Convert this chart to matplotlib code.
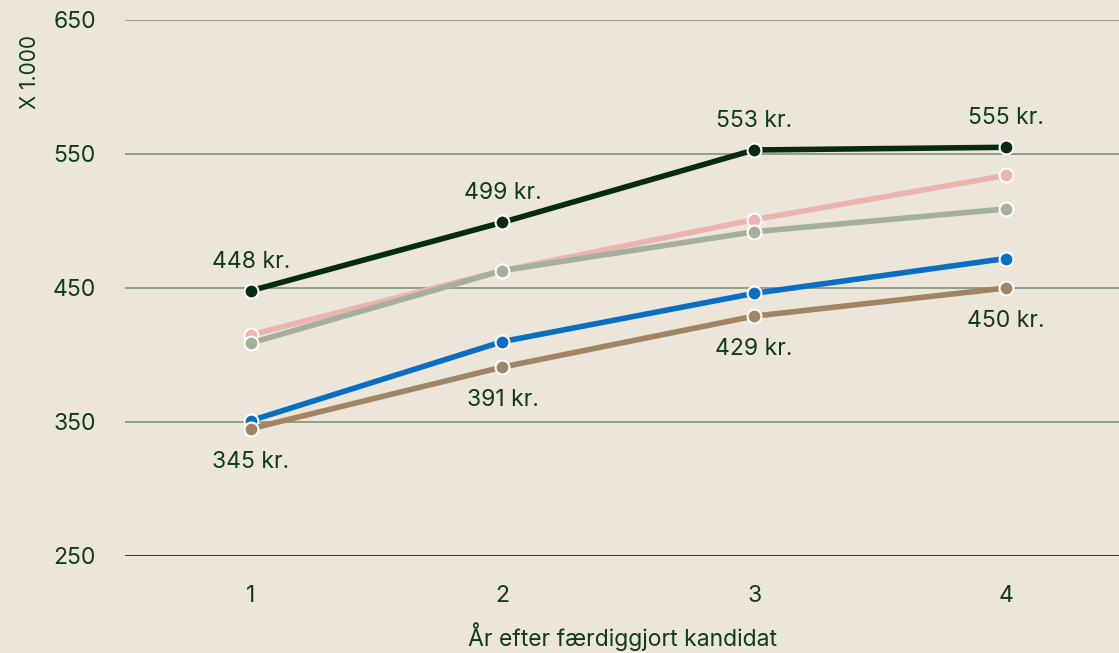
import matplotlib.pyplot as plt

plt.rcParams['font.family'] = ['Inter', 'DejaVu Sans']

years = [1, 2, 3, 4]
y_ticks = [250, 350, 450, 550, 650]

dark = [448, 499, 553, 555]
pink = [415, 463, 501, 534]
grey = [409, 463, 492, 509]
blue = [351, 410, 446, 472]
brown = [345, 391, 429, 450]

bg = '#ece5d9'
txt = '#0e3a1e'

fig = plt.figure(figsize=(11.19, 6.53), dpi=100, facecolor=bg)
ax = fig.add_axes([125 / 1119, 97 / 653, 1 - 125 / 1119, 536 / 653])
ax.set_facecolor(bg)

# grid lines
for v in y_ticks[1:]:
    ax.axhline(v, color='#8a9a82', lw=1.3, zorder=1)
ax.axhline(250, color='#2c4c33', lw=2.2, zorder=1)

series = [
    (pink, '#ebb3b1'),
    (grey, '#a4af9c'),
    (blue, '#0a6fc2'),
    (brown, '#a08463'),
    (dark, '#062b12'),
]
for vals, col in series:
    ax.plot(years, vals, color=col, lw=4, marker='o', ms=10,
            markerfacecolor=col, markeredgecolor='white', markeredgewidth=1.5,
            solid_capstyle='round', zorder=3)

for x, v in zip(years, dark):
    ax.annotate(f'{v} kr.', (x, v), xytext=(0, 21), textcoords='offset points',
                ha='center', va='center', fontsize=16.5, color=txt)
for x, v in zip(years, brown):
    ax.annotate(f'{v} kr.', (x, v), xytext=(0, -24), textcoords='offset points',
                ha='center', va='center', fontsize=16.5, color=txt)

ax.set_xlim(0.5, 4.45)
ax.set_ylim(250, 650)
ax.set_xticks(years)
ax.set_yticks(y_ticks)
ax.tick_params(length=0, labelsize=16.5, labelcolor=txt)
ax.tick_params(axis='y', pad=21)
ax.tick_params(axis='x', pad=21)
for s in ax.spines.values():
    s.set_visible(False)

ax.set_xlabel('År efter færdiggjort kandidat', fontsize=16.5, color=txt, labelpad=11)
fig.text(30 / 1119, 1 - 72 / 653, 'X 1.000', rotation=90, ha='center', va='center',
         fontsize=15, color=txt)

fig.savefig('out.png', dpi=100, facecolor=bg)
